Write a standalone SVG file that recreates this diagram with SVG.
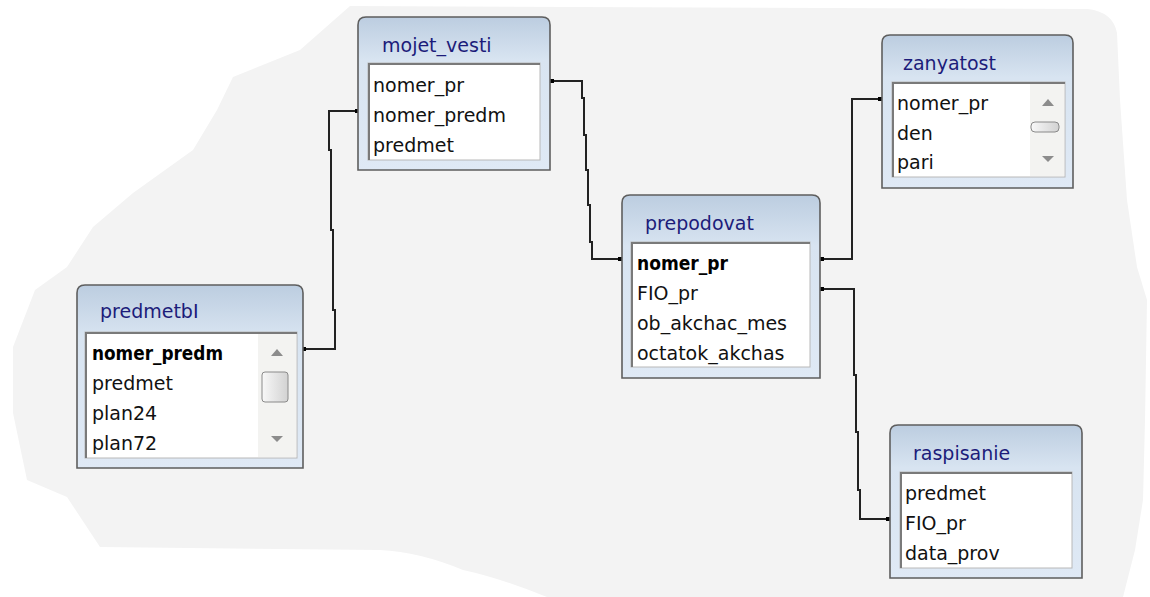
<svg xmlns="http://www.w3.org/2000/svg" width="1150" height="597" viewBox="0 0 1150 597">
<defs>
<linearGradient id="frame" x1="0" y1="0" x2="0" y2="1">
<stop offset="0" stop-color="#bccde0"/>
<stop offset="0.28" stop-color="#d8e4f1"/>
<stop offset="1" stop-color="#dfe9f5"/>
</linearGradient>
<linearGradient id="thumb" x1="0" y1="0" x2="1" y2="0">
<stop offset="0" stop-color="#f8f8f8"/>
<stop offset="1" stop-color="#d2d2d2"/>
</linearGradient>
<style>
.frame{fill:url(#frame);stroke:#5e5e5e;stroke-width:1.6}
.list{fill:#ffffff;stroke:#b8b8b8;stroke-width:1}
.sunk{fill:none;stroke:#7a7a7a;stroke-width:2}
.title{font-family:"DejaVu Sans",sans-serif;font-size:19px;fill:#1c1c7a}
.row{font-family:"DejaVu Sans",sans-serif;font-size:19px;fill:#111111}
.key{font-family:"DejaVu Sans",sans-serif;font-size:19px;font-weight:bold;fill:#000000}
.track{fill:#f3f3f1}
.arrow{fill:#8c8c8c}
.thumb{fill:url(#thumb);stroke:#8a8a8a;stroke-width:1}
.conn{fill:none;stroke:#222222;stroke-width:2}
.dot{fill:#000000}
</style>
</defs>
<rect x="0" y="0" width="1150" height="597" fill="#ffffff"/>
<path d="M350,6 L1088,9 Q1113,12 1117,33 L1120,100 L1127,200 L1137,267 L1147,300 L1145,420 L1143,500 L1135,550 L1123,597 L547,597 Q500,578 463,570 Q420,552 380,550 L100,547 L67,497 L27,480 L13,413 L13,347 L35,290 L67,267 L93,227 L133,193 L193,150 L217,110 L233,77 L300,50 Z" fill="#f3f3f3"/>

<g id="connectors">
<polyline class="conn" points="305,349 335,349 335,310 333,310 333,230 331,230 331,150 329,150 329,111 356,111"/>
<polyline class="conn" points="552,81 582,81 582,98 584,98 584,135 586,135 586,170 588,170 588,205 590,205 590,242 592,242 592,259 620,259"/>
<polyline class="conn" points="822,259 852,259 852,99 880,99"/>
<polyline class="conn" points="822,289 854,289 854,375 856,375 856,432 858,432 858,490 860,490 860,519 888,519"/>
<rect class="dot" x="302" y="347" width="4" height="4"/>
<rect class="dot" x="355" y="109" width="4" height="4"/>
<rect class="dot" x="550" y="79" width="4" height="4"/>
<rect class="dot" x="618" y="257" width="4" height="4"/>
<rect class="dot" x="820" y="257" width="4" height="4"/>
<rect class="dot" x="878" y="97" width="4" height="4"/>
<rect class="dot" x="820" y="287" width="4" height="4"/>
<rect class="dot" x="886" y="517" width="4" height="4"/>
</g>

<g id="predmetbI">
<path class="frame" d="M77,293 Q77,285 85,285 H295 Q303,285 303,293 V468 H77 Z"/>
<rect class="list" x="85" y="332" width="212" height="126"/>
<polyline class="sunk" points="86,458 86,333 297,333"/>
<rect class="track" x="258" y="334" width="38" height="123"/>
<polygon class="arrow" points="271,356 283,356 277,349"/>
<rect class="thumb" x="262" y="372" width="26" height="30" rx="3"/>
<polygon class="arrow" points="271,436 283,436 277,442"/>
<text class="title" x="100" y="318">predmetbI</text>
<text class="key" x="92" y="360" textLength="131" lengthAdjust="spacingAndGlyphs">nomer_predm</text>
<text class="row" x="92" y="390">predmet</text>
<text class="row" x="92" y="420">plan24</text>
<text class="row" x="92" y="450">plan72</text>
</g>

<g id="mojet_vesti">
<path class="frame" d="M358,25 Q358,17 366,17 H542 Q550,17 550,25 V170 H358 Z"/>
<rect class="list" x="368" y="63" width="172" height="97"/>
<polyline class="sunk" points="369,160 369,64 540,64"/>
<text class="title" x="382" y="52">mojet_vesti</text>
<text class="row" x="373" y="92">nomer_pr</text>
<text class="row" x="373" y="122">nomer_predm</text>
<text class="row" x="373" y="152">predmet</text>
</g>

<g id="prepodovat">
<path class="frame" d="M622,203 Q622,195 630,195 H812 Q820,195 820,203 V378 H622 Z"/>
<rect class="list" x="631" y="242" width="179" height="125"/>
<polyline class="sunk" points="632,367 632,243 810,243"/>
<text class="title" x="645" y="230">prepodovat</text>
<text class="key" x="637" y="270" textLength="91" lengthAdjust="spacingAndGlyphs">nomer_pr</text>
<text class="row" x="637" y="300">FIO_pr</text>
<text class="row" x="637" y="330">ob_akchac_mes</text>
<text class="row" x="637" y="360">octatok_akchas</text>
</g>

<g id="zanyatost">
<path class="frame" d="M882,43 Q882,35 890,35 H1065 Q1073,35 1073,43 V188 H882 Z"/>
<rect class="list" x="892" y="82" width="173" height="95"/>
<polyline class="sunk" points="893,177 893,83 1065,83"/>
<rect class="track" x="1030" y="84" width="34" height="92"/>
<polygon class="arrow" points="1042,106 1054,106 1048,99"/>
<rect class="thumb" x="1031" y="122" width="28" height="10" rx="4"/>
<polygon class="arrow" points="1042,156 1054,156 1048,162"/>
<text class="title" x="903" y="70">zanyatost</text>
<text class="row" x="897" y="110">nomer_pr</text>
<text class="row" x="897" y="140">den</text>
<text class="row" x="897" y="169">pari</text>
</g>

<g id="raspisanie">
<path class="frame" d="M890,433 Q890,425 898,425 H1074 Q1082,425 1082,433 V578 H890 Z"/>
<rect class="list" x="900" y="472" width="172" height="96"/>
<polyline class="sunk" points="901,568 901,473 1072,473"/>
<text class="title" x="913" y="460">raspisanie</text>
<text class="row" x="905" y="500">predmet</text>
<text class="row" x="905" y="530">FIO_pr</text>
<text class="row" x="905" y="560">data_prov</text>
</g>
</svg>
